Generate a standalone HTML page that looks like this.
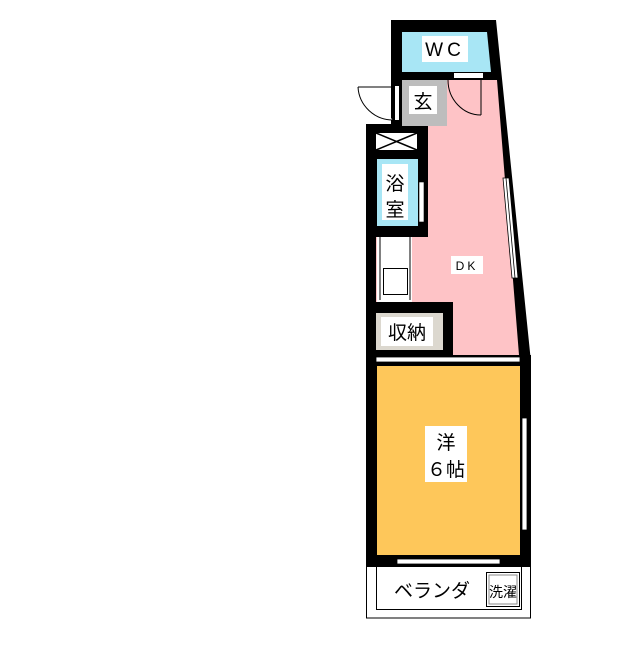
<!DOCTYPE html>
<html><head><meta charset="utf-8"><style>
body{margin:0;background:#fff;width:640px;height:640px;overflow:hidden}
svg text{font-family:"Liberation Sans","Noto Sans CJK JP",sans-serif;fill:#000}
</style></head><body>
<svg width="640" height="640" viewBox="0 0 640 640" xmlns="http://www.w3.org/2000/svg">
<!-- balcony -->
<rect x="366.5" y="560" width="164" height="58" fill="#fff" stroke="#000" stroke-width="1"/>
<polyline points="376.5,565 376.5,609.5 521.5,609.5 521.5,565" fill="none" stroke="#000" stroke-width="1"/>
<text x="432" y="597" font-size="19" text-anchor="middle">ベランダ</text>
<rect x="486.5" y="572.5" width="33" height="34" fill="#fff" stroke="#000" stroke-width="1"/>
<rect x="489" y="575" width="28" height="29" fill="none" stroke="#888" stroke-width="1"/>
<text x="503" y="597" font-size="14" text-anchor="middle">洗濯</text>

<!-- bedroom -->
<rect x="366" y="355" width="165" height="212" fill="#000"/>
<rect x="377" y="366" width="143" height="189" fill="#fec75a"/>
<rect x="397" y="559" width="103" height="5" fill="#fff" stroke="#000" stroke-width="0.8"/>
<rect x="522" y="418" width="5" height="112" fill="#fff" stroke="#000" stroke-width="0.8"/>
<rect x="425" y="426" width="42" height="56" fill="#fff"/>
<text x="446" y="449" font-size="19" text-anchor="middle">洋</text>
<text x="446" y="476" font-size="19" text-anchor="middle">６帖</text>

<!-- DK pink + slanted right wall -->
<polygon points="496,20 531,362 366,362 366,124 391,124 391,20" fill="#000"/>
<polygon points="443,80 497,80 519,355 376,355 376,237 428,237 428,124 443,124" fill="#fec3c6"/>
<rect x="376" y="357" width="144" height="5" fill="#fff" stroke="#000" stroke-width="0.8"/>
<polygon points="503,178 509,178 518,278 512,278" fill="#fff" stroke="#000" stroke-width="0.8"/>
<line x1="506" y1="178" x2="515" y2="278" stroke="#000" stroke-width="0.8"/>
<rect x="451" y="256" width="32" height="18" fill="#fff"/>
<text x="467" y="270" font-size="12" text-anchor="middle" letter-spacing="3">DK</text>

<!-- WC -->
<polygon points="402,32 487,32 491,72 402,72" fill="#a8e6f5"/>
<rect x="422" y="36" width="46" height="26" fill="#fff"/>
<text x="445" y="56" font-size="19" text-anchor="middle" letter-spacing="4">WC</text>
<rect x="454" y="73" width="29" height="5" fill="#fff"/>

<!-- genkan -->
<rect x="392" y="80" width="10" height="44" fill="#000"/>
<rect x="395" y="86" width="4" height="34" fill="#fff"/>
<rect x="402" y="80" width="45" height="46" fill="#bdbdbd"/>
<rect x="409" y="86" width="28" height="28" fill="#fff"/>
<text x="423" y="108" font-size="19" text-anchor="middle">玄</text>
<path d="M358,87 L393,87 M358,87 A35,35 0 0 0 393,120" fill="#fff" stroke="#000" stroke-width="1"/>
<path d="M481,80 L481,115 M448,80 A33,35 0 0 0 481,115" fill="none" stroke="#000" stroke-width="1"/>

<!-- bath block -->
<rect x="376" y="133" width="41" height="17" fill="#fff"/>
<path d="M376,133 L417,150 M417,133 L376,150" stroke="#000" stroke-width="1.5"/>
<rect x="377" y="159" width="41" height="67" fill="#a8e6f5"/>
<rect x="382" y="164" width="26" height="56" fill="#fff"/>
<text x="395" y="190" font-size="19" text-anchor="middle">浴</text>
<text x="395" y="216" font-size="19" text-anchor="middle">室</text>
<rect x="419" y="182" width="5" height="40" fill="#fff" stroke="#000" stroke-width="0.6"/>

<!-- kitchen counter -->
<rect x="377" y="237" width="35" height="65" fill="#fff"/>
<line x1="380" y1="237" x2="380" y2="300" stroke="#000" stroke-width="1"/>
<line x1="410" y1="237" x2="410" y2="300" stroke="#000" stroke-width="1"/>
<rect x="383.5" y="268.5" width="24" height="26" fill="#fff" stroke="#000" stroke-width="1"/>

<!-- storage -->
<rect x="366" y="302" width="87" height="55" fill="#000"/>
<rect x="376" y="313" width="67" height="37" fill="#dcd8cf"/>
<rect x="381" y="317" width="52" height="29" fill="#fff"/>
<text x="407" y="339" font-size="19" text-anchor="middle">収納</text>
<rect x="376" y="357" width="144" height="5" fill="#fff" stroke="#000" stroke-width="0.8"/>
</svg>
</body></html>
